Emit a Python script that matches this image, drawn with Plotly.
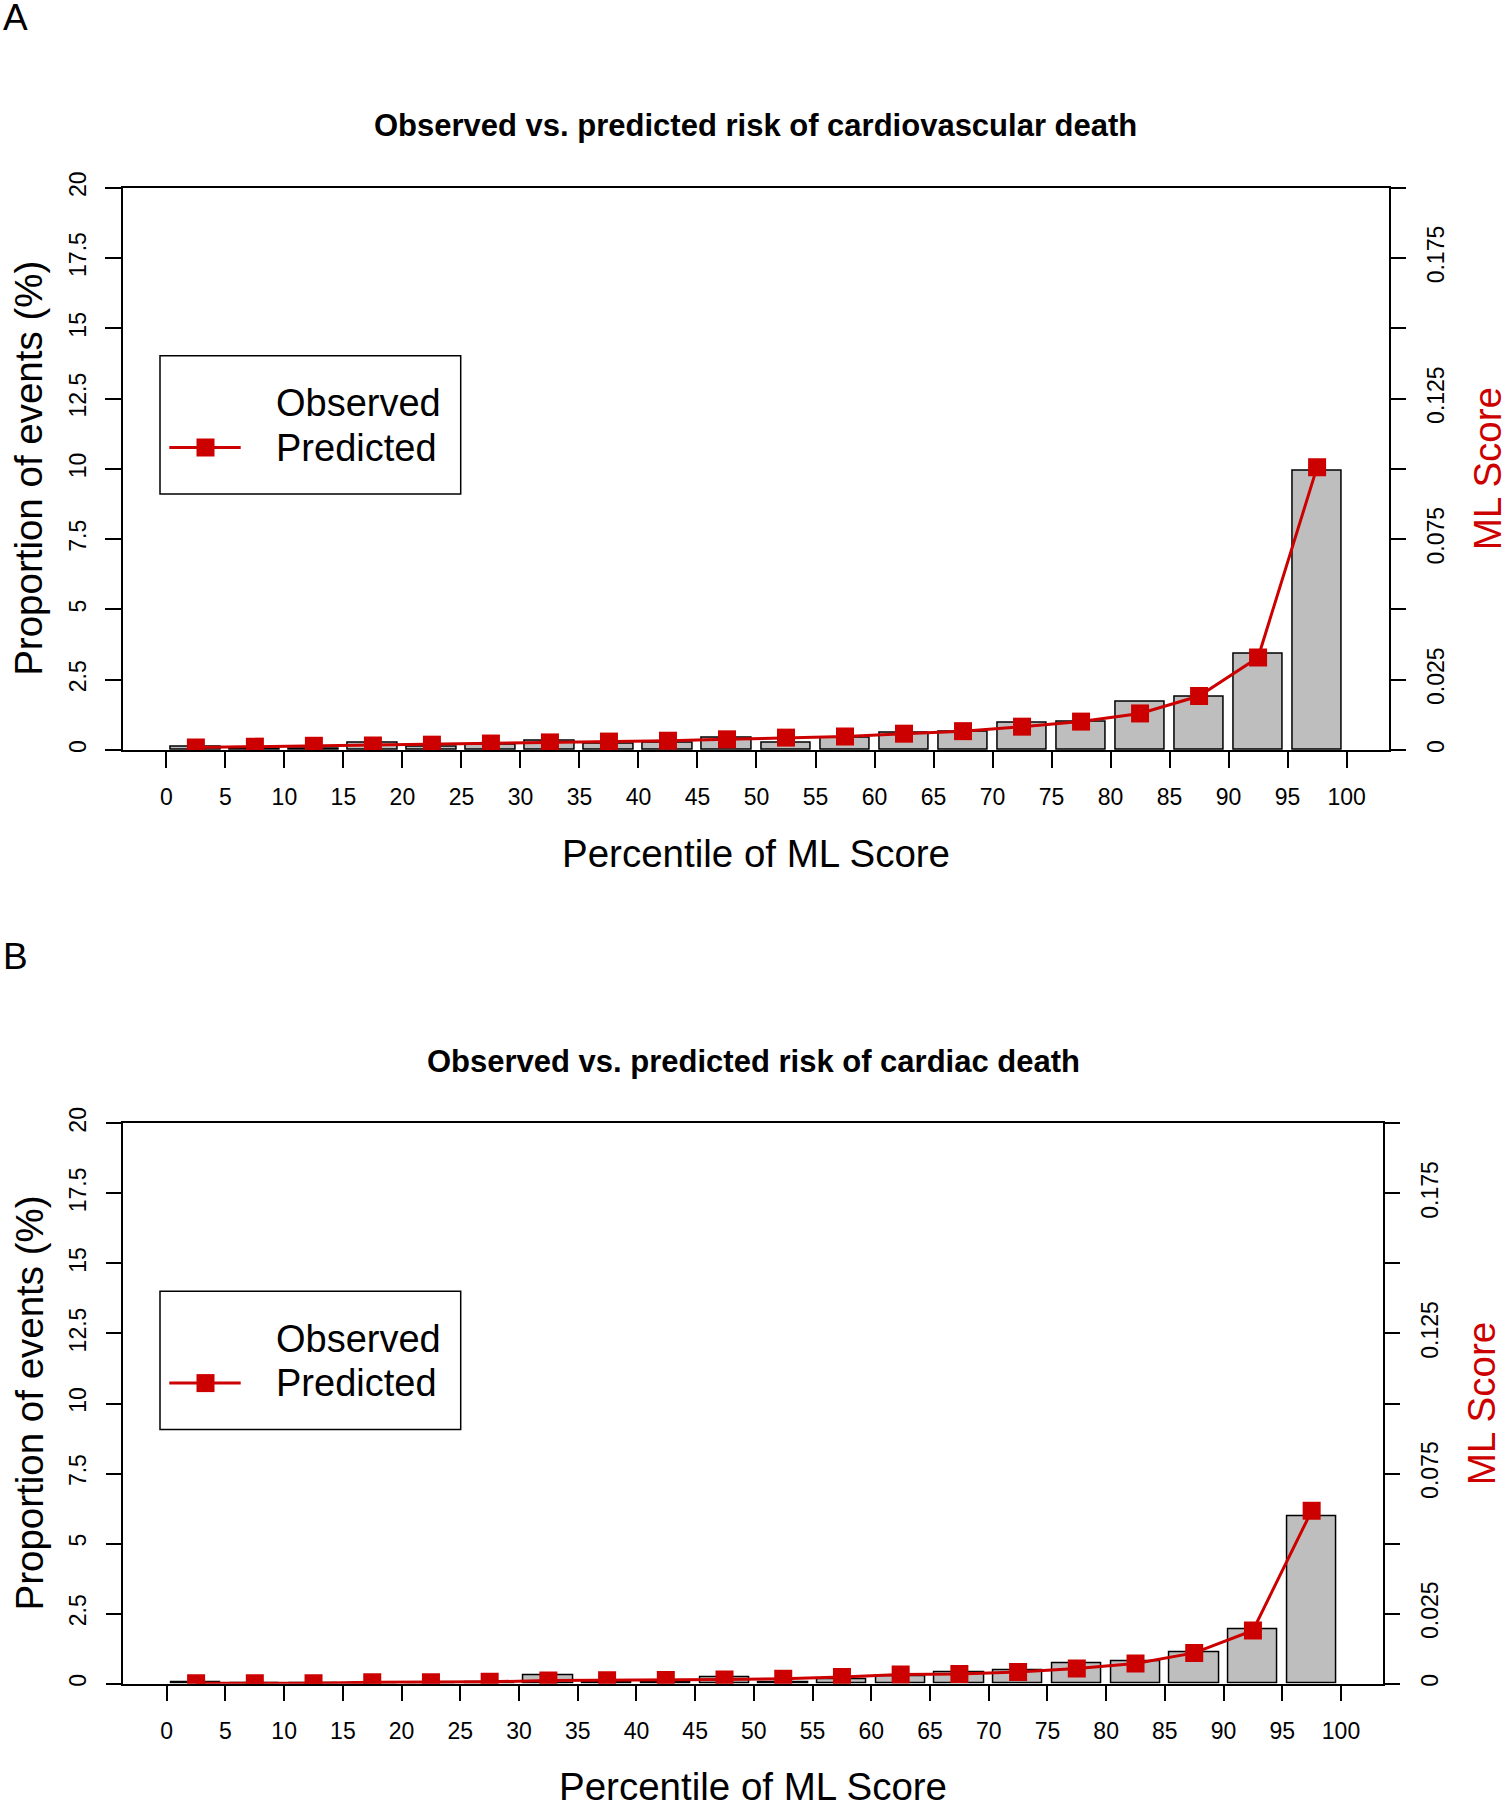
import plotly.graph_objects as go

# ---------------- data ----------------
percentile_ticks = [0, 5, 10, 15, 20, 25, 30, 35, 40, 45, 50, 55, 60, 65, 70, 75, 80, 85, 90, 95, 100]
bin_centers = [2.5, 7.5, 12.5, 17.5, 22.5, 27.5, 32.5, 37.5, 42.5, 47.5,
               52.5, 57.5, 62.5, 67.5, 72.5, 77.5, 82.5, 87.5, 92.5, 97.5]

# Panel A: cardiovascular death
observed_A = [0.11, 0.04, 0.06, 0.26, 0.11, 0.19, 0.32, 0.23, 0.27, 0.45,
              0.26, 0.45, 0.62, 0.64, 0.98, 1.02, 1.72, 1.89, 3.41, 9.92]      # %
predicted_A = [0.0009, 0.0012, 0.0015, 0.0016, 0.0019, 0.0023, 0.0027, 0.0030, 0.0033, 0.0038,
               0.0044, 0.0048, 0.0058, 0.0067, 0.0083, 0.0101, 0.0130, 0.0192, 0.0329, 0.1006]  # ML score

# Panel B: cardiac death
observed_B = [0.04, 0.01, 0.01, 0.02, 0.02, 0.05, 0.30, 0.05, 0.05, 0.24,
              0.06, 0.17, 0.27, 0.39, 0.49, 0.72, 0.80, 1.11, 1.95, 5.98]
predicted_B = [0.0002, 0.0002, 0.0002, 0.0005, 0.0005, 0.0007, 0.0011, 0.0012, 0.0013, 0.0015,
               0.0018, 0.0024, 0.0033, 0.0035, 0.0042, 0.0054, 0.0072, 0.0110, 0.0190, 0.0617]

left_ticks = [0, 2.5, 5, 7.5, 10, 12.5, 15, 17.5, 20]
left_ticktext = ["0", "2.5", "5", "7.5", "10", "12.5", "15", "17.5", "20"]
right_ticks = [0, 0.025, 0.05, 0.075, 0.1, 0.125, 0.15, 0.175, 0.2]
right_ticktext = ["0", "0.025", "", "0.075", "", "0.125", "", "0.175", ""]

titles = ["Observed vs. predicted risk of cardiovascular death",
          "Observed vs. predicted risk of cardiac death"]
panel_letters = ["A", "B"]

# ---------------- layout helpers ----------------
W, H = 1507, 1800
FONT = "Liberation Sans, Arial, Helvetica, sans-serif"
RED = "#CD0000"
GREY = "#BEBEBE"


def px(x):
    return x / W


def py(y):
    return 1 - y / H


# plot-box pixel geometry of each panel: left, right, top, bottom
panels = [
    dict(l=122.7, r=1388.5, t=187.7, b=750.0, obs=observed_A, pred=predicted_A),
    dict(l=123.3, r=1382.7, t=1123.3, b=1683.7, obs=observed_B, pred=predicted_B),
]

fig = go.Figure()
shapes = []
annotations = []

for i, p in enumerate(panels):
    xa = "x" if i == 0 else "x2"
    ya = "y" if i == 0 else "y3"
    ya2 = "y2" if i == 0 else "y4"
    fig.add_trace(go.Bar(
        x=bin_centers, y=p["obs"], width=4.2,
        marker=dict(color=GREY, line=dict(color="black", width=1.5)),
        xaxis=xa, yaxis=ya, showlegend=False, name="Observed"))
    fig.add_trace(go.Scatter(
        x=bin_centers, y=p["pred"], mode="lines+markers",
        line=dict(color=RED, width=3),
        marker=dict(symbol="square", size=18, color=RED),
        xaxis=xa, yaxis=ya2, showlegend=False, name="Predicted"))

    common = dict(ticks="outside", ticklen=16, tickwidth=1.5, tickcolor="black",
                  showline=True, linecolor="black", linewidth=1.5,
                  showgrid=False, zeroline=False, automargin=False,
                  tickfont=dict(family=FONT, size=23, color="black"))
    xkey = "xaxis" if i == 0 else "xaxis2"
    ykey = "yaxis" if i == 0 else "yaxis3"
    y2key = "yaxis2" if i == 0 else "yaxis4"
    fig.update_layout({
        xkey: dict(domain=[px(p["l"]), px(p["r"])], anchor=ya, range=[-3.7, 103.55],
                   tickvals=percentile_ticks, mirror=True, ticklabelstandoff=10, **common),
        ykey: dict(domain=[py(p["b"]), py(p["t"])], anchor=xa, range=[0, 20],
                   tickvals=left_ticks, ticktext=left_ticktext, tickangle=-90,
                   mirror=True, ticklabelstandoff=10, **common),
        y2key: dict(overlaying=ya, side="right", anchor=xa, range=[0, 0.2],
                    tickvals=right_ticks, ticktext=right_ticktext, tickangle=-90,
                    ticklabelstandoff=10, **common),
    })

    cx = (p["l"] + p["r"]) / 2
    cy = (p["t"] + p["b"]) / 2
    dy = p["t"] - 187.7
    # panel letter
    annotations.append(dict(text=panel_letters[i], x=px(15), y=py(17 + (0 if i == 0 else 940)),
                            xref="paper", yref="paper", showarrow=False,
                            xanchor="center", yanchor="middle",
                            font=dict(family=FONT, size=37, color="black")))
    # title
    annotations.append(dict(text="<b>" + titles[i] + "</b>", x=px(cx), y=py(p["t"] - 61.7),
                            xref="paper", yref="paper", showarrow=False,
                            xanchor="center", yanchor="middle",
                            font=dict(family=FONT, size=31, color="black")))
    # x title
    annotations.append(dict(text="Percentile of ML Score", x=px(cx), y=py(p["b"] + 103),
                            xref="paper", yref="paper", showarrow=False,
                            xanchor="center", yanchor="middle",
                            font=dict(family=FONT, size=38.5, color="black")))
    # left y title
    annotations.append(dict(text="Proportion of events (%)", x=px(29), y=py(cy),
                            xref="paper", yref="paper", showarrow=False, textangle=-90,
                            xanchor="center", yanchor="middle",
                            font=dict(family=FONT, size=38.5, color="black")))
    # right y title
    annotations.append(dict(text="ML Score", x=px(p["r"] + 99), y=py(cy),
                            xref="paper", yref="paper", showarrow=False, textangle=-90,
                            xanchor="center", yanchor="middle",
                            font=dict(family=FONT, size=38.5, color=RED)))
    # legend box
    shapes.append(dict(type="rect", xref="paper", yref="paper",
                       x0=px(160), x1=px(460.7), y0=py(494 + dy), y1=py(355.7 + dy),
                       line=dict(color="black", width=1.5), fillcolor="white", layer="above"))
    shapes.append(dict(type="line", xref="paper", yref="paper",
                       x0=px(169.3), x1=px(240.7), y0=py(447.5 + dy), y1=py(447.5 + dy),
                       line=dict(color=RED, width=3), layer="above"))
    shapes.append(dict(type="rect", xref="paper", yref="paper",
                       x0=px(196.5), x1=px(214.5), y0=py(456.5 + dy), y1=py(438.5 + dy),
                       line=dict(color=RED, width=0), fillcolor=RED, layer="above"))
    annotations.append(dict(text="Observed", x=px(274), y=py(402.9 + dy),
                            xref="paper", yref="paper", showarrow=False,
                            xanchor="left", yanchor="middle",
                            font=dict(family=FONT, size=38, color="black")))
    annotations.append(dict(text="Predicted", x=px(274), y=py(447.5 + dy),
                            xref="paper", yref="paper", showarrow=False,
                            xanchor="left", yanchor="middle",
                            font=dict(family=FONT, size=38, color="black")))

fig.update_layout(
    width=W, height=H,
    margin=dict(l=0, r=0, t=0, b=0, pad=0, autoexpand=False),
    paper_bgcolor="white", plot_bgcolor="white",
    font=dict(family=FONT, color="black"),
    showlegend=False,
    bargap=0,
    shapes=shapes,
    annotations=annotations,
)

# pin the figure to the page's top-left corner so the page is exactly W x H
pin = ("var gd = document.getElementById('{plot_id}');"
       "document.documentElement.style.margin='0';document.body.style.margin='0';"
       "gd.style.position='absolute';gd.style.left='0px';gd.style.top='0px';")

fig.write_html("out.html", config={"displayModeBar": False}, post_script=pin)
